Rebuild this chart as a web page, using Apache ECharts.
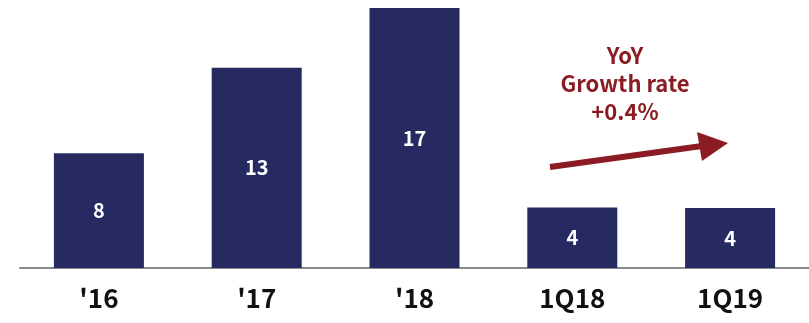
<!DOCTYPE html>
<html><head><meta charset="utf-8">
<script src="https://cdn.jsdelivr.net/npm/echarts@6/dist/echarts.min.js"></script>
<style>html,body{margin:0;padding:0;background:#fff}#c{width:809px;height:323px}</style>
</head><body><div id="c"></div>
<script>
const categories = ["'16", "'17", "'18", "1Q18", "1Q19"];
const values = [7.5, 13.1, 17.0, 3.95, 3.92];
const valueLabels = ["8", "13", "17", "4", "4"];
const noteLines = ["YoY", "Growth rate", "+0.4%"];

const chart = echarts.init(document.getElementById('c'));
const FONT = '"Noto Sans CJK KR", "Noto Sans", sans-serif';
chart.setOption({
  animation: false,
  grid: {left: 20, right: -1, top: 8, bottom: 55},
  xAxis: {
    type: 'category', data: categories,
    axisLine: {lineStyle: {color: '#8a8a8a', width: 2}},
    axisTick: {show: false},
    axisLabel: {color: '#111', fontSize: 26, fontWeight: 'bold', fontFamily: FONT, margin: 17}
  },
  yAxis: {type: 'value', min: 0, max: 17, show: false, splitLine: {show: false}},
  series: [{
    type: 'bar', data: values, barWidth: 90,
    itemStyle: {color: '#262a61'},
    label: {show: true, position: 'inside', color: '#fff', fontSize: 20, fontWeight: 'bold', fontFamily: FONT,
      formatter: p => valueLabels[p.dataIndex]}
  }],
  graphic: [
    {type: 'text', x: 625, y: 84, style: {text: noteLines.join('\n'), fill: '#8b1c24', font: 'bold 22px ' + FONT, textAlign: 'center', textVerticalAlign: 'middle', lineHeight: 28}},
    {type: 'line', shape: {x1: 550, y1: 167, x2: 702, y2: 146}, style: {stroke: '#8b1c24', lineWidth: 6}},
    {type: 'polygon', shape: {points: [[697, 132], [728, 143], [702, 161]]}, style: {fill: '#8b1c24'}}
  ]
});
</script></body></html>
